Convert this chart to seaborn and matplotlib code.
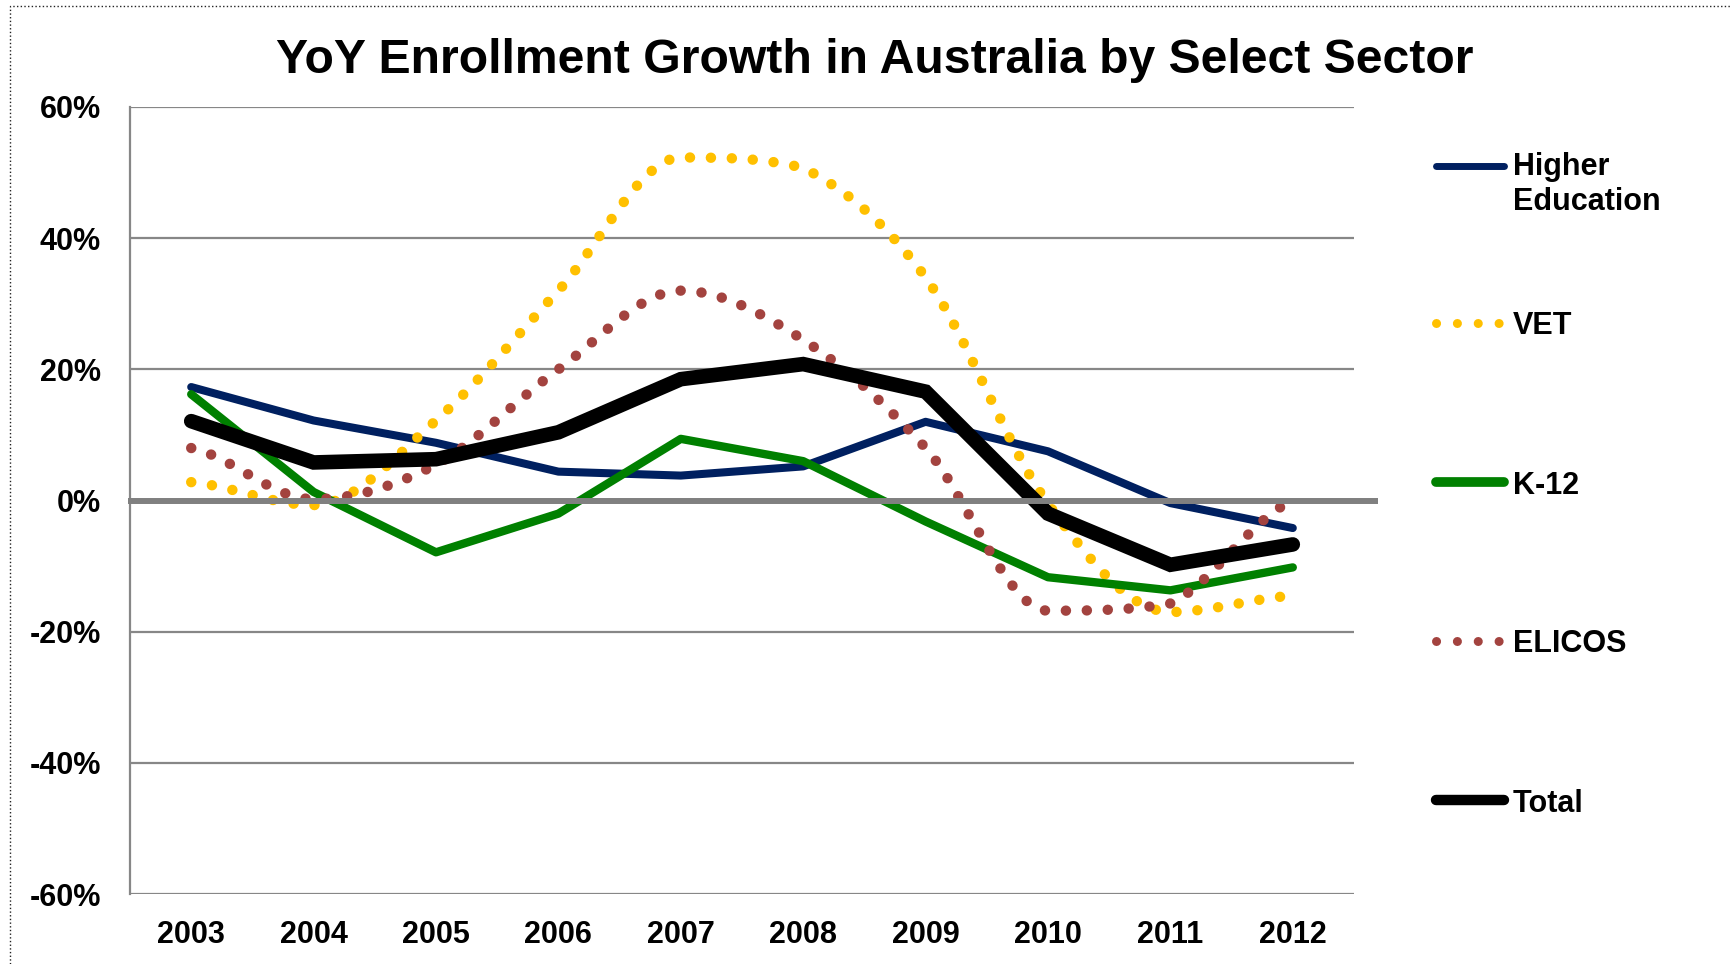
import matplotlib
matplotlib.use("Agg")
import matplotlib.pyplot as plt
from matplotlib.path import Path
from matplotlib.patches import PathPatch, Rectangle
from matplotlib.lines import Line2D
import seaborn as sns

# --- data (YoY growth, %) ---
years = [2003, 2004, 2005, 2006, 2007, 2008, 2009, 2010, 2011, 2012]
higher_ed = [17.3, 12.2, 8.8, 4.4, 3.8, 5.2, 12.0, 7.5, -0.4, -4.2]
vet = [2.8, -0.7, 12.2, 32.0, 52.3, 50.7, 34.0, -0.5, -17.0, -14.5]
k12 = [16.2, 1.3, -7.9, -2.0, 9.4, 6.0, -3.2, -11.7, -13.7, -10.2]
elicos = [8.0, 0.2, 5.5, 20.0, 32.0, 24.5, 8.0, -16.8, -15.7, 0.0]
total = [12.1, 5.8, 6.3, 10.4, 18.5, 20.8, 16.6, -2.0, -9.8, -6.7]

y_ticks = [-60, -40, -20, 0, 20, 40, 60]
y_tick_labels = ["-60%", "-40%", "-20%", "0%", "20%", "40%", "60%"]
series_labels = ["Higher\nEducation", "VET", "K-12", "ELICOS", "Total"]

NAVY, GOLD, GREEN, BRICK, BLACK = "#002060", "#FFC000", "#008000", "#A3433F", "#000000"
GRID = "#878787"


def smooth_path(xs, ys):
    """Bezier path through the points (Excel-style smoothed line, no overshoot)."""
    n = len(xs)
    tang = []
    for i in range(n):
        if i == 0:
            t = (ys[1] - ys[0]) / 2
        elif i == n - 1:
            t = (ys[-1] - ys[-2]) / 2
        else:
            d0, d1 = ys[i] - ys[i - 1], ys[i + 1] - ys[i]
            t = 0 if d0 * d1 <= 0 else (ys[i + 1] - ys[i - 1]) / 2
        tang.append(t)
    verts = [(xs[0], ys[0])]
    codes = [Path.MOVETO]
    for i in range(n - 1):
        lo, hi = min(ys[i], ys[i + 1]), max(ys[i], ys[i + 1])
        c1 = min(max(ys[i] + tang[i] / 3, lo), hi)
        c2 = min(max(ys[i + 1] - tang[i + 1] / 3, lo), hi)
        verts += [(xs[i] + 1 / 3, c1), (xs[i + 1] - 1 / 3, c2), (xs[i + 1], ys[i + 1])]
        codes += [Path.CURVE4] * 3
    return Path(verts, codes)


sns.set_theme(style="white")
plt.rcParams["font.family"] = ["Liberation Sans", "DejaVu Sans"]
plt.rcParams["font.weight"] = "bold"
plt.rcParams["text.color"] = "black"

fig = plt.figure(figsize=(17.32, 9.64), dpi=100)
ax = fig.add_axes([130 / 1732, 1 - 894 / 964, (1354 - 130) / 1732, (894 - 107) / 964])

sns.lineplot(x=years, y=higher_ed, color=NAVY, linewidth=5.8, ax=ax,
             solid_capstyle="round", zorder=3)
for ys, col, z in [(vet, GOLD, 4), (elicos, BRICK, 6)]:
    patch = PathPatch(smooth_path(years, ys), fill=False, edgecolor=col, linewidth=7.5,
                      linestyle=(0, (0.01, 2.0)), capstyle="round", zorder=z)
    ax.add_patch(patch)
sns.lineplot(x=years, y=k12, color=GREEN, linewidth=6.0, ax=ax,
             solid_capstyle="round", zorder=5)
sns.lineplot(x=years, y=total, color=BLACK, linewidth=10.5, ax=ax,
             solid_capstyle="round", solid_joinstyle="miter", zorder=7)

# category axis at zero, drawn on top and running a bit past the plot area
ax.plot([-0.002, 1.02], [0, 0], transform=ax.get_yaxis_transform(), color="#808080",
        linewidth=4.3, clip_on=False, zorder=10, solid_capstyle="butt")

ax.set_xlim(2002.5, 2012.5)
ax.set_ylim(-60, 60)
ax.set_yticks(y_ticks)
ax.set_yticklabels(y_tick_labels)
ax.set_xticks(years)
ax.set_xticklabels([str(y) for y in years])
ax.tick_params(axis="both", length=0, labelsize=22, colors="black")
ax.tick_params(axis="y", pad=21)
ax.tick_params(axis="x", pad=19)
for lab in ax.get_xticklabels() + ax.get_yticklabels():
    lab.set_fontweight("bold")
ax.grid(axis="y", color=GRID, linewidth=1.6)
ax.set_axisbelow(True)
for side in ["top", "right", "bottom"]:
    ax.spines[side].set_visible(False)
ax.spines["left"].set_color(GRID)
ax.spines["left"].set_linewidth(1.6)
ax.set_xlabel("")
ax.set_ylabel("")

fig.text(875 / 1732, 1 - 73 / 964, "YoY Enrollment Growth in Australia by Select Sector",
         ha="center", va="baseline", fontsize=34.7, fontweight="bold", color="black")

# legend, laid out like the original (widely spaced entries on the right)
leg_y = [166, 323, 482, 641, 800]
leg_style = [dict(color=NAVY, lw=5, ls="-"), dict(color=GOLD, lw=6.5, ls=(0, (0.01, 2.3))),
             dict(color=GREEN, lw=7, ls="-"), dict(color=BRICK, lw=6.5, ls=(0, (0.01, 2.3))),
             dict(color=BLACK, lw=7.5, ls="-")]
for lab, yy, st in zip(series_labels, leg_y, leg_style):
    yf = 1 - yy / 964
    fig.add_artist(Line2D([1436 / 1732, 1504 / 1732], [yf, yf], color=st["color"],
                          linewidth=st["lw"], linestyle=st["ls"], solid_capstyle="round",
                          dash_capstyle="round"))
    if "\n" in lab:
        fig.text(1513 / 1732, 1 - (yy - 14) / 964, lab, ha="left", va="top",
                 fontsize=22, fontweight="bold", linespacing=1.2, color="black")
    else:
        fig.text(1513 / 1732, yf, lab, ha="left", va="center_baseline",
                 fontsize=22, fontweight="bold", color="black")

# dotted outline of the chart object
fig.add_artist(Rectangle((10 / 1732, -0.05), 1.1, 1.05 - 6 / 964, transform=fig.transFigure,
                         fill=False, edgecolor="#222222", linewidth=1.0, linestyle=":"))

fig.savefig("out.png", dpi=100)
